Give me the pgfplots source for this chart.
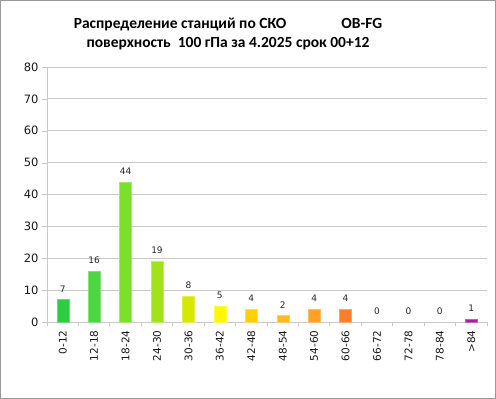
\documentclass[border=0pt]{standalone}
\usepackage{pgfplots}
\pgfplotsset{compat=1.18}
\usepackage{fontspec}
\setmainfont{Carlito}
\newfontfamily\lab{DejaVu Sans}
\definecolor{c1}{RGB}{46,204,64}
\definecolor{c2}{RGB}{76,214,64}
\definecolor{c3}{RGB}{122,224,40}
\definecolor{c4}{RGB}{164,226,24}
\definecolor{c5}{RGB}{214,232,0}
\definecolor{c6}{RGB}{255,248,0}
\definecolor{c7}{RGB}{255,208,10}
\definecolor{c8}{RGB}{255,186,30}
\definecolor{c9}{RGB}{255,160,40}
\definecolor{c10}{RGB}{255,124,40}
\definecolor{c14}{RGB}{170,30,160}
\definecolor{gridc}{RGB}{200,200,200}
\begin{document}
\begin{tikzpicture}[x=1pt,y=1pt]
\draw[color=gray!80, line width=1pt] (0.5,0.5) rectangle (495.5,398.5);
\node[font=\bfseries\fontsize{15.5}{19}\selectfont, align=center] at (228,365) {Распределение станций по СКО\hspace{55pt}OB-FG\\поверхность~ 100 гПа за 4.2025 срок 00+12};
\begin{axis}[
  at={(47pt,77pt)}, anchor=south west,
  scale only axis, width=440pt, height=255pt,
  xmin=-0.5, xmax=13.5, ymin=0, ymax=80,
  ytick={0,10,...,80},
  xtick={0,...,13},
  xticklabels={0-12,12-18,18-24,24-30,30-36,36-42,42-48,48-54,54-60,60-66,66-72,72-78,78-84,>84},
  x tick label style={rotate=90, anchor=east, font=\lab\fontsize{10.5}{12}\selectfont, color=black!90},
  y tick label style={font=\lab\fontsize{11.5}{12}\selectfont, color=black!90},
  /pgf/number format/assume math mode=true,
  axis x line*=bottom, axis y line*=left,
  axis line style={gridc, line width=0.8pt},
  ymajorgrids, grid style={gridc, line width=0.8pt},
  major x tick style={draw=none},
  minor xtick={-0.5,0.5,...,13.5},
  minor x tick style={gridc, line width=0.8pt},
  tick align=outside, minor tick length=4pt,
  major y tick style={gridc}, major tick length=5pt,
  ybar, bar width=12pt, bar shift=0pt,
  nodes near coords,
  every node near coord/.append style={font=\lab\fontsize{9}{10}\selectfont, color=black!85, yshift=4pt},
  clip=false,
]
\addplot[fill=c1, draw=c1!70!white] coordinates {(0,7)};
\addplot[fill=c2, draw=c2!70!white] coordinates {(1,16)};
\addplot[fill=c3, draw=c3!70!white] coordinates {(2,44)};
\addplot[fill=c4, draw=c4!70!white] coordinates {(3,19)};
\addplot[fill=c5, draw=c5!70!white] coordinates {(4,8)};
\addplot[fill=c6, draw=c6!70!white] coordinates {(5,5)};
\addplot[fill=c7, draw=c7!70!white] coordinates {(6,4)};
\addplot[fill=c8, draw=c8!70!white] coordinates {(7,2)};
\addplot[fill=c9, draw=c9!70!white] coordinates {(8,4)};
\addplot[fill=c10, draw=c10!70!white] coordinates {(9,4)};
\addplot[draw=none, fill=none] coordinates {(10,0)};
\addplot[draw=none, fill=none] coordinates {(11,0)};
\addplot[draw=none, fill=none] coordinates {(12,0)};
\addplot[fill=c14, draw=c14!70!white] coordinates {(13,1)};
\end{axis}
\end{tikzpicture}
\end{document}
